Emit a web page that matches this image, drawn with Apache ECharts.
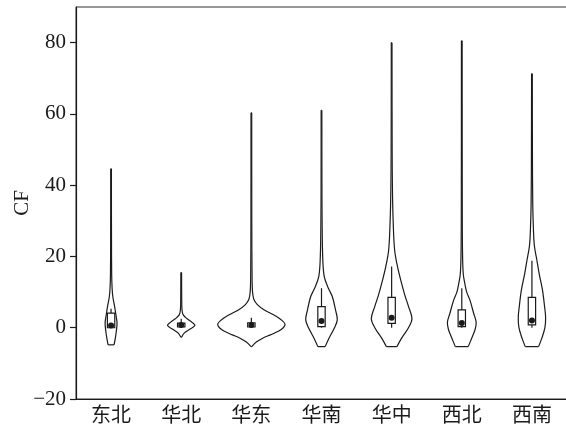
<!DOCTYPE html>
<html>
<head>
<meta charset="utf-8">
<script src="https://cdn.jsdelivr.net/npm/echarts@6/dist/echarts.min.js"></script>
<style>
  html, body { margin: 0; padding: 0; background: #fff; }
  #chart { width: 566px; height: 431px; }
</style>
</head>
<body>
<div id="chart"></div>
<script>
// Regions on the category axis
const categories = ['东北', '华北', '华东', '华南', '华中', '西北', '西南'];

// Y-axis tick values
const yTicks = [-20, 0, 20, 40, 60, 80];

// Kernel density profiles per region: [CF value, half-width as fraction of half a category band]
const densityDongbei = [[-4.8, 0.085], [-3, 0.12], [-1, 0.15], [1.3, 0.17], [3.5, 0.14], [6, 0.10], [8.7, 0.05], [11, 0.03], [15, 0.017], [25, 0.012], [35, 0.01], [44.6, 0.008]];
const densityHuabei = [[-2.7, 0.01], [-1.5, 0.085], [-0.5, 0.23], [0.6, 0.39], [1.5, 0.31], [2.5, 0.17], [3.6, 0.057], [5, 0.023], [8, 0.014], [15.5, 0.008]];
const densityHuadong = [[-5.3, 0.01], [-4, 0.14], [-3, 0.31], [-2, 0.54], [-1, 0.77], [0, 0.91], [1, 0.96], [2, 0.88], [3.5, 0.66], [5, 0.37], [6.5, 0.17], [8, 0.07], [10, 0.034], [14, 0.02], [30, 0.012], [60.3, 0.008]];
const densityHuanan = [[-5.3, 0.105], [-3, 0.21], [0, 0.37], [2.2, 0.45], [5, 0.40], [8.7, 0.31], [11, 0.2], [14.4, 0.077], [20, 0.034], [30, 0.017], [40, 0.012], [61, 0.008]];
const densityHuazhong = [[-5.3, 0.15], [-3, 0.28], [0, 0.48], [2.5, 0.58], [6, 0.48], [9, 0.38], [12.6, 0.28], [17, 0.17], [21.8, 0.085], [30, 0.043], [38.7, 0.023], [50, 0.014], [80, 0.008]];
const densityXibei = [[-5.3, 0.185], [-3, 0.28], [-0.5, 0.38], [1.5, 0.41], [4, 0.34], [7.8, 0.23], [10, 0.14], [12.5, 0.085], [15, 0.043], [20, 0.023], [30, 0.014], [80.5, 0.008]];
const densityXinan = [[-5.3, 0.19], [-3, 0.28], [0, 0.37], [2.9, 0.39], [6, 0.36], [10.6, 0.30], [15, 0.21], [19, 0.14], [23, 0.07], [27.5, 0.043], [35, 0.023], [50, 0.014], [71.3, 0.008]];

const densities = [densityDongbei, densityHuabei, densityHuadong, densityHuanan, densityHuazhong, densityXibei, densityXinan];

// Box plot statistics per region
const whiskerLow = [0, 0, 0, 0, 0, 0, 0];
const quartile1 = [0, 0.2, 0.2, 0.3, 1.2, 0.3, 0.8];
const quartile3 = [4.1, 1.3, 1.4, 5.9, 8.5, 5.0, 8.5];
const whiskerHigh = [5.3, 2.5, 2.8, 11.1, 17.2, 11.1, 18.8];
const medians = [0.6, 0.8, 0.8, 1.9, 2.8, 1.3, 2.0];

const INK = '#1a1a1a';
const serif = '"Liberation Serif", "Times New Roman", serif';
const cjk = '"Noto Sans CJK SC", "Noto Sans", sans-serif';

function renderViolin(params, api) {
  const idx = api.value(0);
  const profile = densities[idx];
  const halfBand = api.size([1, 0])[0] / 2;
  const left = [];
  const right = [];
  for (let i = 0; i < profile.length; i++) {
    const p = api.coord([idx, profile[i][0]]);
    const hw = Math.max(profile[i][1] * halfBand, 0.35);
    left.push([p[0] - hw, p[1]]);
    right.push([p[0] + hw, p[1]]);
  }
  const boxHalf = 0.105 * halfBand;
  const c = api.coord([idx, 0])[0];
  const yLow = api.coord([idx, whiskerLow[idx]])[1];
  const yQ1 = api.coord([idx, quartile1[idx]])[1];
  const yQ3 = api.coord([idx, quartile3[idx]])[1];
  const yHigh = api.coord([idx, whiskerHigh[idx]])[1];
  const yMed = api.coord([idx, medians[idx]])[1];
  const stroke = { stroke: INK, lineWidth: 1.2, fill: null };
  const bottomL = left[0], bottomR = right[0];
  const topL = left[left.length - 1], topR = right[right.length - 1];
  return {
    type: 'group',
    children: [
      { type: 'polyline', shape: { points: left, smooth: 0.35 }, style: stroke },
      { type: 'polyline', shape: { points: right, smooth: 0.35 }, style: stroke },
      { type: 'line', shape: { x1: bottomL[0], y1: bottomL[1], x2: bottomR[0], y2: bottomR[1] }, style: stroke },
      { type: 'line', shape: { x1: topL[0], y1: topL[1], x2: topR[0], y2: topR[1] }, style: stroke },
      { type: 'line', shape: { x1: c, y1: yLow, x2: c, y2: yQ1 }, style: stroke },
      { type: 'line', shape: { x1: c, y1: yQ3, x2: c, y2: yHigh }, style: stroke },
      { type: 'rect', shape: { x: c - boxHalf, y: yQ3, width: boxHalf * 2, height: Math.max(yQ1 - yQ3, 1) }, style: { stroke: INK, lineWidth: 1.2, fill: '#fff' } },
      { type: 'circle', shape: { cx: c, cy: yMed, r: 3 }, style: { fill: INK, stroke: null } }
    ]
  };
}

const chart = echarts.init(document.getElementById('chart'), null, { renderer: 'canvas' });
chart.setOption({
  animation: false,
  grid: {
    left: 76, top: 7, width: 491, height: 392,
    outerBoundsMode: 'none', containLabel: false,
    show: true, borderColor: '#333', borderWidth: 1, backgroundColor: 'transparent'
  },
  xAxis: {
    type: 'category',
    data: categories,
    boundaryGap: true,
    axisLine: { onZero: false, lineStyle: { color: INK, width: 1.2 } },
    axisTick: { alignWithLabel: true, inside: true, length: 6, lineStyle: { color: INK, width: 1.2 } },
    axisLabel: { color: INK, fontFamily: cjk, fontSize: 20, margin: 5 },
    splitLine: { show: false }
  },
  yAxis: {
    type: 'value',
    min: -20,
    max: 90,
    interval: 20,
    name: 'CF',
    nameLocation: 'middle',
    nameGap: 43,
    nameMoveOverlap: false,
    nameTextStyle: { color: INK, fontFamily: serif, fontSize: 21 },
    axisLine: { show: true, onZero: false, lineStyle: { color: INK, width: 1.2 } },
    axisTick: { show: true, inside: false, length: 6, customValues: yTicks, lineStyle: { color: INK, width: 1.2 } },
    axisLabel: {
      color: INK, fontFamily: serif, fontSize: 21, margin: 10,
      customValues: yTicks,
      formatter: v => (v < 0 ? '\u2212' + Math.abs(v) : String(v))
    },
    splitLine: { show: false }
  },
  series: [{
    type: 'custom',
    renderItem: renderViolin,
    data: categories.map((c, i) => [i]),
    encode: { x: 0 },
    clip: false,
    z: 3
  }]
});
</script>
</body>
</html>
